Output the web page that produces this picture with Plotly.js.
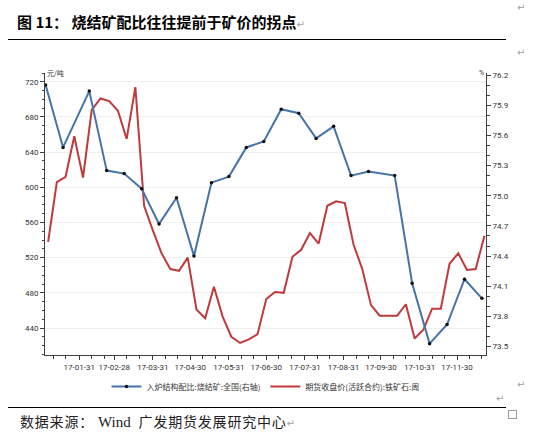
<!DOCTYPE html>
<html>
<head>
<meta charset="utf-8">
<script src="https://cdn.plot.ly/plotly-3.0.1.min.js"></script>
<style>
  html, body { margin: 0; padding: 0; background: #fff; }
  #wrap { position: relative; width: 537px; height: 440px; overflow: hidden; }
  #chart { position: absolute; left: 0; top: 0; width: 537px; height: 440px; }
  .txt { position: absolute; white-space: nowrap; line-height: 1; }
  .title { left: 17px; top: 11px; font: bold 15px "Noto Sans CJK SC", sans-serif; color: #000; }
  .rule { position: absolute; left: 8px; width: 498px; height: 0; border-top: 1.5px solid #000; }
  .source { left: 20px; top: 411px; font: 14px "Noto Sans CJK SC", sans-serif; color: #222; letter-spacing: 0.8px; }
  .source .en { font-family: "Liberation Serif", serif; font-size: 15px; letter-spacing: 0; margin-right: 4px; }
  .mark { font: 10px "DejaVu Sans", sans-serif; color: #a0a0a0; letter-spacing: 0; }
  .box { position: absolute; left: 508px; top: 410px; width: 7px; height: 7px; border: 1px solid #999; }
</style>
</head>
<body>
<div id="wrap">
  <div id="chart"></div>
  <div class="txt title">图 11： 烧结矿配比往往提前于矿价的拐点<span class="mark">↵</span></div>
  <div class="txt mark" style="left:517px; top:2px;">↵</div>
  <div class="rule" style="top:39px;"></div>
  <div class="txt mark" style="left:517px; top:47px;">↵</div>
  <div class="txt mark" style="left:517px; top:379px;">↵</div>
  <div class="txt mark" style="left:496px; top:393px;">↵</div>
  <div class="rule" style="top:407px;"></div>
  <div class="txt source">数据来源： <span class="en">Wind</span> 广发期货发展研究中心<span class="mark">↵</span></div>
  <div class="box"></div>
</div>
<script>
// 入炉结构配比:烧结矿:全国 (%), bi-weekly, right axis
const ratioDates = ['2017-01-04','2017-01-18','2017-02-08','2017-02-22','2017-03-08','2017-03-22',
  '2017-04-05','2017-04-19','2017-05-03','2017-05-17','2017-05-31','2017-06-14','2017-06-28',
  '2017-07-12','2017-07-26','2017-08-09','2017-08-23','2017-09-06','2017-09-20','2017-10-11',
  '2017-10-25','2017-11-08','2017-11-22','2017-12-06','2017-12-20'];
const ratioValues = [76.10, 75.48, 76.04, 75.25, 75.22, 75.07, 74.72, 74.98, 74.40, 75.13, 75.19,
  75.48, 75.54, 75.86, 75.82, 75.57, 75.69, 75.20, 75.24, 75.20, 74.13, 73.53, 73.72, 74.17, 73.98];

// 期货收盘价(活跃合约):铁矿石 (元/吨), weekly, left axis
const priceDates = ['2017-01-06','2017-01-13','2017-01-20','2017-01-27','2017-02-03','2017-02-10',
  '2017-02-17','2017-02-24','2017-03-03','2017-03-10','2017-03-17','2017-03-24','2017-03-31',
  '2017-04-07','2017-04-14','2017-04-21','2017-04-28','2017-05-05','2017-05-12','2017-05-19',
  '2017-05-26','2017-06-02','2017-06-09','2017-06-16','2017-06-23','2017-06-30','2017-07-07',
  '2017-07-14','2017-07-21','2017-07-28','2017-08-04','2017-08-11','2017-08-18','2017-08-25',
  '2017-09-01','2017-09-08','2017-09-15','2017-09-22','2017-09-29','2017-10-06','2017-10-13',
  '2017-10-20','2017-10-27','2017-11-03','2017-11-10','2017-11-17','2017-11-24','2017-12-01',
  '2017-12-08','2017-12-15','2017-12-22'];
const priceValues = [538, 606, 612, 658, 611, 688, 701, 698, 687, 655, 714, 579, 551, 525, 507,
  505, 520, 461, 451, 487, 453, 430, 423, 427, 433, 473, 481, 480, 521, 529, 548, 536, 579, 584,
  582, 535, 507, 466, 454, 454, 454, 467, 428, 438, 462, 462, 513, 525, 506, 507, 545];

// x-axis labels at month ends
const monthTicks = ['2017-01-31','2017-02-28','2017-03-31','2017-04-30','2017-05-31','2017-06-30',
  '2017-07-31','2017-08-31','2017-09-30','2017-10-31','2017-11-30'];
const monthLabels = ['17-01-31','17-02-28','17-03-31','17-04-30','17-05-31','17-06-30',
  '17-07-31','17-08-31','17-09-30','17-10-31','17-11-30'];

const ratioName = '入炉结构配比:烧结矿:全国(右轴)';
const priceName = '期货收盘价(活跃合约):铁矿石:周';

// minor x ticks on the 10th and 20th of every month
const minorX = [];
for (let m = 1; m <= 12; m++) {
  const mm = String(m).padStart(2, '0');
  minorX.push('2017-' + mm + '-10', '2017-' + mm + '-20');
}

const axisColor = '#404040';
const tickFont = { family: 'Roboto, "Noto Sans", sans-serif', size: 8, color: '#333' };

const traces = [
  {
    x: ratioDates, y: ratioValues, name: ratioName, yaxis: 'y2', type: 'scatter',
    mode: 'lines+markers',
    line: { color: '#4673aa', width: 2 },
    marker: { color: '#111', size: 3.5 }
  },
  {
    x: priceDates, y: priceValues, name: priceName, yaxis: 'y', type: 'scatter',
    mode: 'lines',
    line: { color: '#c03a3c', width: 2 }
  }
];

const layout = {
  width: 537, height: 440,
  margin: { l: 45, r: 51, t: 73, b: 85 },
  paper_bgcolor: 'rgba(0,0,0,0)', plot_bgcolor: '#fff',
  showlegend: true,
  legend: {
    orientation: 'h', x: 0.5, xanchor: 'center', y: -0.112, yanchor: 'middle',
    font: { family: '"Noto Sans CJK SC", sans-serif', size: 8, color: '#333' },
    itemwidth: 30, tracegroupgap: 0, bgcolor: 'rgba(0,0,0,0)'
  },
  xaxis: {
    type: 'date', range: ['2017-01-03 12:00', '2017-12-23 06:00'],
    tickmode: 'array', tickvals: monthTicks, ticktext: monthLabels,
    ticks: 'outside', ticklen: 4, tickcolor: axisColor, tickwidth: 1,
    minor: { tickmode: 'array', tickvals: minorX, ticks: 'outside', ticklen: 3, tickcolor: axisColor, showgrid: false },
    showline: true, linecolor: axisColor, linewidth: 1, mirror: false,
    showgrid: false, zeroline: false, tickfont: tickFont, fixedrange: true
  },
  yaxis: {
    range: [409.3, 730], tickmode: 'linear', tick0: 440, dtick: 40,
    ticks: 'outside', ticklen: 4, tickcolor: axisColor,
    minor: { dtick: 10, ticks: 'outside', ticklen: 2.5, tickcolor: axisColor, showgrid: false },
    showline: true, linecolor: axisColor, linewidth: 1,
    showgrid: true, gridcolor: '#efefef', gridwidth: 1, zeroline: false,
    tickfont: tickFont, fixedrange: true
  },
  yaxis2: {
    overlaying: 'y', side: 'right', range: [73.417, 76.22],
    tickmode: 'linear', tick0: 73.5, dtick: 0.3, tickformat: '.1f',
    ticks: 'outside', ticklen: 4, tickcolor: axisColor,
    minor: { dtick: 0.1, tick0: 73.5, ticks: 'outside', ticklen: 2.5, tickcolor: axisColor, showgrid: false },
    showline: true, linecolor: axisColor, linewidth: 1,
    showgrid: false, zeroline: false, tickfont: tickFont, fixedrange: true
  },
  annotations: [
    { text: '元/吨', xref: 'paper', yref: 'paper', x: 0, y: 1, xanchor: 'left', yanchor: 'middle',
      showarrow: false, font: { family: '"Noto Sans CJK SC", sans-serif', size: 7, color: '#333' } },
    { text: '%', xref: 'paper', yref: 'paper', x: 1, y: 1, xanchor: 'right', yanchor: 'middle',
      showarrow: false, font: { family: 'Roboto, sans-serif', size: 7, color: '#333' } }
  ]
};

Plotly.newPlot('chart', traces, layout, { displayModeBar: false, staticPlot: true });
</script>
</body>
</html>
